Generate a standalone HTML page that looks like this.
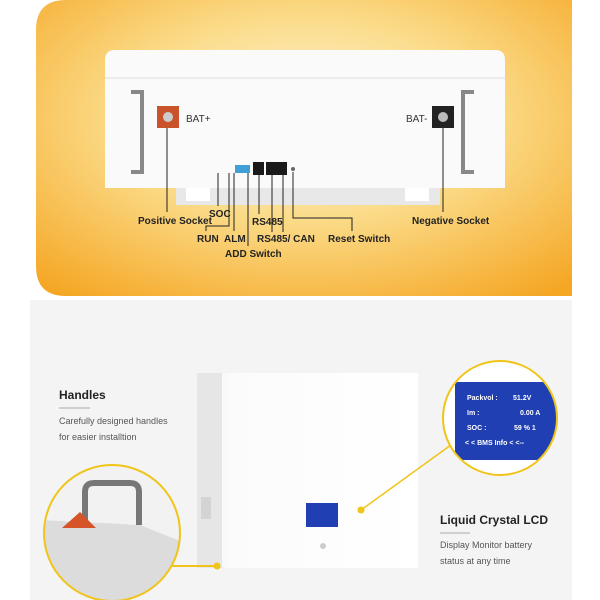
<!DOCTYPE html>
<html><head><meta charset="utf-8"><style>
body{margin:0;width:600px;height:600px;overflow:hidden;background:#fff;font-family:"Liberation Sans",sans-serif;position:relative}
.a{position:absolute}
</style></head><body>
<svg class="a" style="left:0;top:0" width="600" height="600" viewBox="0 0 600 600">
<defs>
<radialGradient id="og" cx="0.5" cy="0.4" r="0.75">
<stop offset="0" stop-color="#fdf3dc"/><stop offset="0.45" stop-color="#fbdc8a"/><stop offset="1" stop-color="#f5a623"/>
</radialGradient>
<linearGradient id="dev" x1="0" x2="1"><stop offset="0" stop-color="#ececec"/><stop offset="0.15" stop-color="#fbfbfb"/><stop offset="1" stop-color="#fff"/></linearGradient>
<clipPath id="c1"><circle cx="112" cy="533" r="68"/></clipPath>
<clipPath id="c2"><circle cx="500" cy="418" r="57"/></clipPath>
</defs>
<rect x="0" y="300" width="600" height="300" fill="#f4f4f4"/>
<rect x="0" y="300" width="30" height="300" fill="#fff"/>
<rect x="572" y="300" width="28" height="300" fill="#fff"/>
<path d="M66 0 H572 V296 H66 Q36 296 36 266 V30 Q36 0 66 0Z" fill="url(#og)"/>
<rect x="176" y="186" width="264" height="19" fill="#e8e8e8"/>
<rect x="186" y="186" width="24" height="15" fill="#fff"/><rect x="405" y="186" width="24" height="15" fill="#fff"/>
<path d="M115 50 H495 Q505 50 505 60 V188 H105 V60 Q105 50 115 50Z" fill="#fafafa"/>
<line x1="105" y1="78" x2="505" y2="78" stroke="#ddd"/>
<path d="M131 92 H142 V172 H131" fill="none" stroke="#888" stroke-width="4"/>
<path d="M474 92 H463 V172 H474" fill="none" stroke="#888" stroke-width="4"/>
<rect x="157" y="106" width="22" height="22" fill="#c9532b"/><circle cx="168" cy="117" r="5" fill="#ccc"/>
<rect x="432" y="106" width="22" height="22" fill="#222"/><circle cx="443" cy="117" r="5" fill="#bbb"/>
<text x="186" y="122" font-size="10" fill="#333">BAT+</text>
<text x="406" y="122" font-size="10" fill="#333">BAT-</text>
<rect x="235" y="165" width="15" height="8" fill="#3fa0d8"/>
<rect x="253" y="162" width="11" height="13" fill="#1a1a1a"/>
<rect x="266" y="162" width="21" height="13" fill="#1a1a1a"/>
<circle cx="293" cy="169" r="2" fill="#666"/>
<g stroke="#222" stroke-width="1" fill="none">
<path d="M167 128 V212"/><path d="M218 173 V206"/><path d="M234 173 V231"/><path d="M248 173 V246"/>
<path d="M259 175 V214"/><path d="M272 175 V232"/><path d="M283 175 V232"/>
<path d="M293 172 V218 H352 V231"/><path d="M443 128 V212"/><path d="M229 173 V226 H206 V231"/>
</g>
<g font-size="10" font-weight="bold" fill="#222">
<text x="138" y="224">Positive Socket</text><text x="209" y="217">SOC</text>
<text x="197" y="242">RUN</text><text x="224" y="242">ALM</text><text x="225" y="257">ADD Switch</text>
<text x="252" y="225">RS485</text><text x="257" y="242">RS485/ CAN</text><text x="328" y="242">Reset Switch</text>
<text x="412" y="224">Negative Socket</text>
</g>
<rect x="197" y="373" width="221" height="195" fill="url(#dev)"/>
<rect x="197" y="373" width="25" height="195" fill="#e6e6e6"/>
<rect x="201" y="497" width="10" height="22" fill="#d4d4d4"/>
<rect x="306" y="503" width="32" height="24" fill="#1f3fb3"/>
<circle cx="323" cy="546" r="3" fill="#ccc"/>
<path d="M165 566 H215" stroke="#f0c419" stroke-width="2"/><circle cx="217" cy="566" r="3.5" fill="#f0c419"/>
<path d="M361 510 L455 442" stroke="#f0c419" stroke-width="1.5"/><circle cx="361" cy="510" r="3.5" fill="#f0c419"/>
<circle cx="500" cy="418" r="57" fill="#fff"/>
<g clip-path="url(#c2)">
<path d="M455 382 H560 V460 H455Z" fill="#1f3fb3"/>
<g font-size="7" fill="#fff" font-weight="bold">
<text x="467" y="400">Packvol :</text><text x="513" y="400">51.2V</text>
<text x="467" y="415">Im :</text><text x="520" y="415">0.00 A</text>
<text x="467" y="430">SOC :</text><text x="514" y="430">59  %  1</text>
<text x="465" y="445">&lt; &lt;  BMS   Info &lt; &lt;--</text>
</g></g>
<circle cx="500" cy="418" r="57" fill="none" stroke="#f0c419" stroke-width="2"/>
<g clip-path="url(#c1)">
<rect x="40" y="460" width="150" height="150" fill="#f2f2f2"/>
<path d="M40 520 L140 525 L190 545 V610 H40Z" fill="#dcdcdc"/>
<path d="M85 520 V492 Q85 483 94 483 H130 Q139 483 139 492 V525" fill="none" stroke="#777" stroke-width="6"/>
<path d="M62 528 L80 512 L96 528Z" fill="#d5542a"/>
</g>
<circle cx="112" cy="533" r="68" fill="none" stroke="#f0c419" stroke-width="2"/>
<text x="59" y="399" font-size="12" font-weight="bold" fill="#222">Handles</text>
<line x1="59" y1="408" x2="90" y2="408" stroke="#aaa"/>
<text x="59" y="424" font-size="9" fill="#555">Carefully designed handles</text>
<text x="59" y="440" font-size="9" fill="#555">for easier installtion</text>
<text x="440" y="524" font-size="12" font-weight="bold" fill="#222">Liquid Crystal LCD</text>
<line x1="440" y1="533" x2="470" y2="533" stroke="#aaa"/>
<text x="440" y="548" font-size="9" fill="#555">Display Monitor battery</text>
<text x="440" y="564" font-size="9" fill="#555">status at any time</text>
</svg>
</body></html>
